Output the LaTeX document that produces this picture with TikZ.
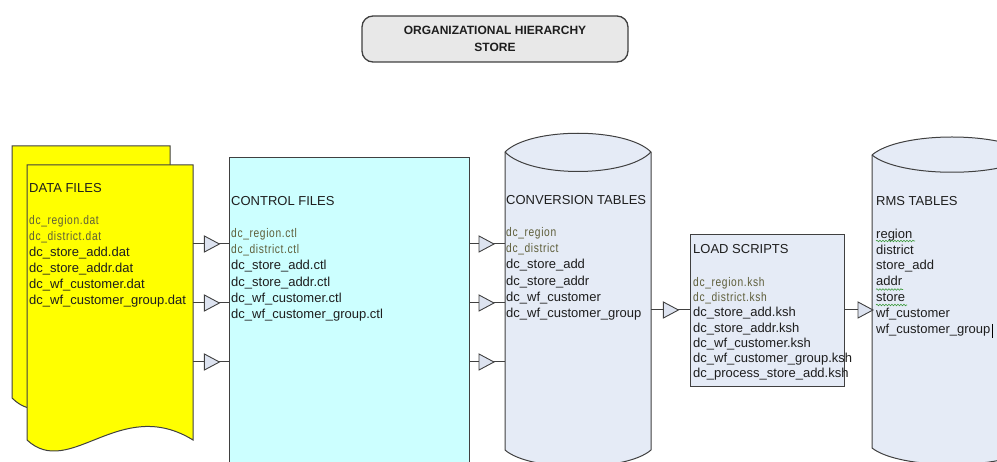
\documentclass[tikz,border=0pt]{standalone}
\usepackage{fontspec}
\setmainfont{Liberation Sans}
\newfontfamily\thinfont[LetterSpace=5, FakeStretch=0.82]{Liberation Sans}
\usetikzlibrary{decorations.markings,decorations.pathmorphing}

\definecolor{edge}{HTML}{404040}
\definecolor{docyellow}{HTML}{FFFF00}
\definecolor{ctlcyan}{HTML}{CCFFFF}
\definecolor{tablefill}{HTML}{E5EBF6}
\definecolor{titlefill}{HTML}{E8E8E8}
\definecolor{minor}{HTML}{5E5E3A}
\definecolor{ink}{HTML}{1E1E1E}
\definecolor{tipfill}{HTML}{DDE3F0}
\definecolor{spell}{HTML}{3C9A3C}

% secondary file names: narrow, spaced out, muted
\newcommand{\minorline}[1]{{\thinfont\fontsize{12.5}{16}\selectfont\color{minor}#1}}

\tikzset{
  outline/.style={draw=edge, line width=1},
  docshape/.style={outline, fill=docyellow},
  tableshape/.style={outline, fill=tablefill},
  anchorbox/.style={inner sep=0, anchor=north west},
  titlebox/.style={draw=edge, fill=titlefill, line width=1.3, rounded corners=11,
    minimum width=266, minimum height=46, align=center, text=ink,
    font=\bfseries\fontsize{12}{17}\selectfont},
  txt/.style={anchor=north west, inner sep=0, align=left, text=ink,
    font=\fontsize{13}{16}\selectfont},
  % open triangle whose base sits #1 along the connector
  flow/.style={draw=edge, line width=1, postaction=decorate,
    decoration={markings, mark=at position #1 with {
      \draw[draw=edge, fill=tipfill, line width=0.9]
        (0pt,-8pt) -- (15pt,0pt) -- (0pt,8pt) -- cycle;}}},
  spellmark/.style={draw=spell, line width=0.6,
    decorate, decoration={snake, segment length=3pt, amplitude=0.8pt}},
}

\begin{document}
\begin{tikzpicture}[x=1pt, y=-1pt]
\useasboundingbox (0,0) rectangle (997,462);
\clip (0,0) rectangle (997,462);

% heading
\node[titlebox] (title) at (495,39) {ORGANIZATIONAL HIERARCHY\\STORE};

% data files: two stacked documents
\draw[docshape] (12,146) -- (170,146) -- (170,398)
  .. controls (100,353) and (52,438) .. (12,398) -- cycle;
\draw[docshape] (27,165) -- (193,165) -- (193,440)
  .. controls (120,395) and (70,480) .. (27,440) -- cycle;
\node[anchorbox, minimum width=166, minimum height=275] (data) at (27,165) {};

% control files
\node[anchorbox, outline, fill=ctlcyan, minimum width=240, minimum height=330] (ctl) at (229,157) {};

% conversion tables cylinder
\draw[tableshape] (505,152) .. controls (530,127) and (626,127) .. (651,152)
  -- (651,450) .. controls (626,472) and (530,472) .. (505,450) -- cycle;
\draw[outline] (505,152) .. controls (530,178) and (626,178) .. (651,152);
\node[anchorbox, minimum width=146, minimum height=298] (conv) at (505,152) {};

% load scripts
\node[anchorbox, outline, fill=tablefill, minimum width=154, minimum height=152] (load) at (690,234) {};

% rms tables cylinder
\draw[tableshape] (872,155) .. controls (900,131) and (1004,131) .. (1032,155)
  -- (1032,448) .. controls (1004,470) and (900,470) .. (872,448) -- cycle;
\draw[outline] (872,155) .. controls (900,178) and (1004,178) .. (1032,155);
\node[anchorbox, minimum width=160, minimum height=293] (rms) at (872,155) {};

% texts
\node[txt] (datatext) at (29,183.3) {DATA FILES\\[16pt]
  \minorline{dc\_region.dat}\\
  \minorline{dc\_district.dat}\\
  dc\_store\_add.dat\\
  dc\_store\_addr.dat\\
  dc\_wf\_customer.dat\\
  dc\_wf\_customer\_group.dat};

\node[txt, font=\fontsize{13}{16.2}\selectfont] (ctltext) at (231,196.3) {CONTROL FILES\\[15.8pt]
  \minorline{dc\_region.ctl}\\
  \minorline{dc\_district.ctl}\\
  dc\_store\_add.ctl\\
  dc\_store\_addr.ctl\\
  dc\_wf\_customer.ctl\\
  dc\_wf\_customer\_group.ctl};

\node[txt, font=\fontsize{13}{16.2}\selectfont] (convtext) at (506,195.3) {CONVERSION TABLES\\[15.8pt]
  \minorline{dc\_region}\\
  \minorline{dc\_district}\\
  dc\_store\_add\\
  dc\_store\_addr\\
  dc\_wf\_customer\\
  dc\_wf\_customer\_group};

\node[txt, font=\fontsize{13}{15.2}\selectfont] (loadtext) at (693,244.3) {LOAD SCRIPTS\\[17.8pt]
  \minorline{dc\_region.ksh}\\
  \minorline{dc\_district.ksh}\\
  dc\_store\_add.ksh\\
  dc\_store\_addr.ksh\\
  dc\_wf\_customer.ksh\\
  dc\_wf\_customer\_group.ksh\\
  dc\_process\_store\_add.ksh};

\node[txt, font=\fontsize{13}{15.8}\selectfont] (rmstext) at (876,196.3) {RMS TABLES\\[17pt]
  region\\
  district\\
  store\_add\\
  addr\\
  store\\
  wf\_customer\\
  wf\_customer\_group};

% spelling marks and caret in the rms list
\draw[spellmark] (876,241) -- (915,241);
\draw[spellmark] (876,289.5) -- (903,289.5);
\draw[spellmark] (876,305) -- (907,305);
\draw[line width=1.5] (992.5,324) -- (992.5,338);

% flows
\foreach \yy in {244,303,362} {
  \draw[flow=11pt] (data.east |- 0,\yy) -- (ctl.west |- 0,\yy);
  \draw[flow=9pt] (ctl.east |- 0,\yy) -- (conv.west |- 0,\yy);
}
\draw[flow=12pt] (conv.east |- 0,310) -- (load.west |- 0,310);
\draw[flow=13pt] (load.east |- 0,310) -- (rms.west |- 0,310);
\end{tikzpicture}
\end{document}
